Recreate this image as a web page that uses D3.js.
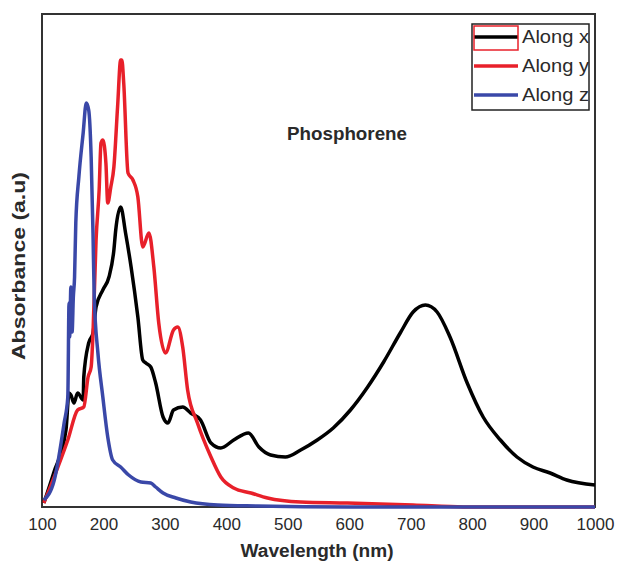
<!DOCTYPE html>
<html>
<head>
<meta charset="utf-8">
<script src="https://cdn.jsdelivr.net/npm/d3@7"></script>
<style>
  body { margin: 0; background: #fff; }
  svg { display: block; }
  .tick text { font-family: "Liberation Sans", Arial, sans-serif; font-size: 17px; fill: #2a2a2a; }
</style>
</head>
<body>
<div class="chart"></div>
<script>
// wavelength (nm) and absorbance
var blueX = [103, 120, 136, 142, 144, 145, 147, 149, 151, 153, 155, 160, 167, 172, 176, 180, 183, 185, 191, 199, 207, 215, 228, 241, 261, 277, 285, 297, 318, 342, 386, 450, 600, 800, 1000];
var blueY = [0.07, 0.27, 0.84, 1.10, 2.04, 1.70, 2.20, 1.75, 2.10, 2.30, 2.84, 3.30, 3.74, 4.04, 3.97, 3.50, 2.74, 2.10, 1.54, 1.10, 0.70, 0.47, 0.40, 0.32, 0.25, 0.24, 0.20, 0.14, 0.09, 0.05, 0.02, 0.01, 0.0, 0.0, 0.0];

var redX = [103, 126, 142, 158, 168, 175, 180, 183, 188, 193, 196, 199, 204, 207, 212, 217, 223, 228, 230, 233, 240, 248, 256, 264, 274, 282, 290, 301, 314, 321, 329, 337, 353, 375, 391, 412, 440, 467, 521, 597, 704, 786, 1000];
var redY = [0.04, 0.40, 0.67, 0.97, 1.00, 1.30, 1.40, 1.74, 2.67, 3.17, 3.64, 3.67, 3.44, 3.04, 3.20, 3.40, 4.00, 4.47, 4.47, 4.24, 3.34, 3.27, 3.10, 2.60, 2.74, 2.40, 1.84, 1.54, 1.77, 1.80, 1.60, 1.17, 0.84, 0.50, 0.30, 0.19, 0.14, 0.09, 0.05, 0.04, 0.02, 0.0, 0.0];

var blackX = [103, 119, 139, 144, 147, 152, 158, 167, 168, 176, 183, 188, 199, 209, 217, 220, 228, 236, 245, 256, 264, 269, 277, 285, 297, 305, 314, 329, 342, 358, 375, 391, 412, 436, 453, 472, 496, 521, 548, 574, 602, 630, 656, 683, 704, 724, 743, 764, 792, 818, 846, 873, 899, 927, 954, 1000];
var blackY = [0.04, 0.34, 0.77, 1.14, 1.12, 1.04, 1.14, 1.07, 1.30, 1.64, 1.74, 2.00, 2.17, 2.30, 2.57, 2.77, 3.00, 2.74, 2.40, 1.90, 1.47, 1.44, 1.40, 1.24, 0.90, 0.84, 0.97, 1.00, 0.94, 0.87, 0.64, 0.59, 0.67, 0.74, 0.60, 0.52, 0.50, 0.57, 0.67, 0.79, 0.97, 1.20, 1.45, 1.74, 1.95, 2.02, 1.95, 1.70, 1.24, 0.90, 0.67, 0.50, 0.40, 0.34, 0.27, 0.22];

var xTicks = [100, 200, 300, 400, 500, 600, 700, 800, 900, 1000];
var seriesNames = ["Along x", "Along y", "Along z"];

var width = 617,
    height = 564,
    margin = {top: 14, right: 22, bottom: 57, left: 42};

var x = d3.scaleLinear()
    .domain([100, 1000])
    .range([margin.left, width - margin.right]);

var y = d3.scaleLinear()
    .domain([0, 4.93])
    .range([height - margin.bottom, margin.top]);

var z = d3.scaleOrdinal()
    .domain(seriesNames)
    .range(["#000000", "#e8202a", "#3a48a8"]);

var svg = d3.select(".chart")
    .append("svg")
    .attr("width", width)
    .attr("height", height);

function toPoints(xs, ys) {
    return xs.map(function(d, i) { return [d, ys[i]]; });
}

var series = [
    {name: "Along x", values: toPoints(blackX, blackY)},
    {name: "Along y", values: toPoints(redX, redY)},
    {name: "Along z", values: toPoints(blueX, blueY)}
];

var line = d3.line()
    .curve(d3.curveMonotoneX)
    .x(function(d) { return x(d[0]); })
    .y(function(d) { return y(d[1]); });

// plot frame
svg.append("rect")
    .attr("x", x(100))
    .attr("y", y(4.93))
    .attr("width", x(1000) - x(100))
    .attr("height", y(0) - y(4.93))
    .attr("fill", "none")
    .attr("stroke", "#333")
    .attr("stroke-width", 2);

svg.append("g")
    .selectAll("path")
    .data(series)
    .enter().append("path")
    .attr("fill", "none")
    .attr("stroke", function(d) { return z(d.name); })
    .attr("stroke-width", 3.5)
    .attr("stroke-linejoin", "round")
    .attr("d", function(d) { return line(d.values); });

// x axis
var xAxis = svg.append("g")
    .attr("transform", "translate(0," + y(0) + ")")
    .call(d3.axisBottom(x).tickValues(xTicks).tickFormat(d3.format("d")).tickSize(0).tickPadding(11));
xAxis.select(".domain").remove();

svg.append("text")
    .attr("x", 317)
    .attr("y", 557)
    .attr("text-anchor", "middle")
    .attr("font-family", "Liberation Sans, Arial, sans-serif")
    .attr("font-weight", "bold")
    .attr("font-size", 18)
    .attr("textLength", 153)
    .attr("lengthAdjust", "spacingAndGlyphs")
    .attr("fill", "#2a2a2a")
    .text("Wavelength (nm)");

// y-axis label
svg.append("text")
    .attr("transform", "translate(25,266) rotate(-90)")
    .attr("text-anchor", "middle")
    .attr("font-family", "Liberation Sans, Arial, sans-serif")
    .attr("font-weight", "bold")
    .attr("font-size", 18)
    .attr("textLength", 188)
    .attr("lengthAdjust", "spacingAndGlyphs")
    .attr("fill", "#2a2a2a")
    .text("Absorbance (a.u)");

svg.append("text")
    .attr("x", 347)
    .attr("y", 140)
    .attr("text-anchor", "middle")
    .attr("font-family", "Liberation Sans, Arial, sans-serif")
    .attr("font-weight", "bold")
    .attr("font-size", 18)
    .attr("textLength", 120)
    .attr("lengthAdjust", "spacingAndGlyphs")
    .attr("fill", "#2a2a2a")
    .text("Phosphorene");

// Legend
svg.append("clipPath")
    .attr("id", "legclip")
    .append("rect")
    .attr("x", 472).attr("y", 24).attr("width", 117).attr("height", 86);

var legendBox = svg.append("g");

legendBox.append("rect")
    .attr("x", 472).attr("y", 24)
    .attr("width", 117).attr("height", 86)
    .attr("fill", "#fff")
    .attr("stroke", "#222")
    .attr("stroke-width", 1.5);

var legend = legendBox.append("g")
    .attr("clip-path", "url(#legclip)")
    .selectAll("g")
    .data(seriesNames)
    .enter().append("g")
    .attr("transform", function(d, i) { return "translate(0," + (37 + i * 29) + ")"; });

legend.append("line")
    .attr("x1", 474).attr("x2", 518)
    .attr("stroke", z)
    .attr("stroke-width", 3.5);

legend.append("text")
    .attr("x", 522)
    .attr("dy", "0.36em")
    .attr("font-family", "Liberation Sans, Arial, sans-serif")
    .attr("font-size", 18)
    .attr("textLength", 67)
    .attr("lengthAdjust", "spacingAndGlyphs")
    .attr("fill", "#2a2a2a")
    .text(function(d) { return d; });

// red outline round the first legend sample
legendBox.append("rect")
    .attr("x", 474).attr("y", 26)
    .attr("width", 44).attr("height", 24)
    .attr("fill", "none")
    .attr("stroke", "#e8202a")
    .attr("stroke-width", 1.5);
</script>
</body>
</html>
